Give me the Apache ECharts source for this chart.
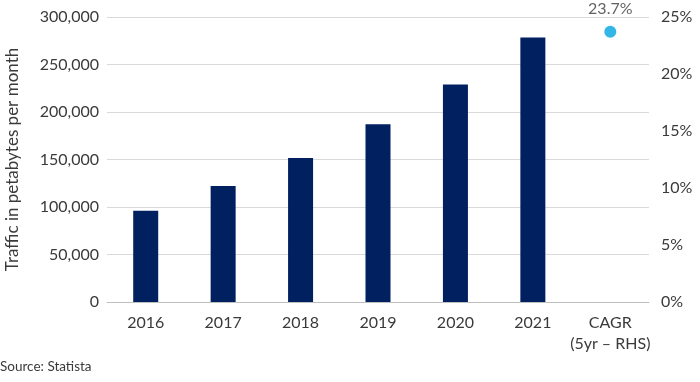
<!DOCTYPE html>
<html>
<head>
<meta charset="utf-8">
<script src="https://cdn.jsdelivr.net/npm/echarts@6/dist/echarts.min.js"></script>
<style>html,body{margin:0;padding:0;background:#fff}#c{width:700px;height:382px}</style>
</head>
<body>
<div id="c"></div>
<script>
const categories = ['2016', '2017', '2018', '2019', '2020', '2021', 'CAGR\n(5yr – RHS)'];
const trafficValues = [96000, 122000, 151500, 187000, 229000, 278500, null];
const cagrValues = [null, null, null, null, null, null, 0.237];
const leftTicks = { min: 0, max: 300000, interval: 50000 };
const rightTicks = { min: 0, max: 0.25, interval: 0.05 };
const yAxisTitle = 'Traffic in petabytes per month';
const sourceText = 'Source: Statista';

const FONT = 'Lato';
const TXT = '#3a3a3a';
const chart = echarts.init(document.getElementById('c'), null, { renderer: 'canvas' });
chart.setOption({
  animation: false,
  textStyle: { fontFamily: FONT },
  grid: { left: 107, right: 51, top: 17, bottom: 80, containLabel: false, outerBoundsMode: 'none' },
  xAxis: {
    type: 'category',
    data: categories,
    axisLine: { lineStyle: { color: '#bfbfbf', width: 1 } },
    axisTick: { show: false },
    axisLabel: { color: TXT, fontSize: 16, fontFamily: FONT, margin: 10, lineHeight: 21, interval: 0 }
  },
  yAxis: [
    {
      type: 'value', min: leftTicks.min, max: leftTicks.max, interval: leftTicks.interval,
      name: yAxisTitle, nameLocation: 'middle', nameGap: 86,
      nameTextStyle: { color: TXT, fontSize: 17, fontFamily: FONT },
      axisLine: { show: false }, axisTick: { show: false },
      splitLine: { lineStyle: { color: '#d9d9d9', width: 1 } },
      axisLabel: { color: TXT, fontSize: 16, fontFamily: FONT, margin: 8,
        formatter: v => v.toLocaleString('en-US') }
    },
    {
      type: 'value', min: rightTicks.min, max: rightTicks.max, interval: rightTicks.interval,
      position: 'right',
      axisLine: { show: false }, axisTick: { show: false },
      splitLine: { show: false },
      axisLabel: { color: TXT, fontSize: 16, fontFamily: FONT, margin: 12,
        formatter: v => Math.round(v * 100) + '%' }
    }
  ],
  series: [
    {
      type: 'bar', data: trafficValues, yAxisIndex: 0, barWidth: 25,
      itemStyle: { color: '#002060' }
    },
    {
      type: 'scatter', data: cagrValues, yAxisIndex: 1, symbolSize: 12,
      itemStyle: { color: '#00a3e0' },
      label: { show: true, position: 'top', distance: 9, color: TXT, fontSize: 16, fontFamily: FONT,
        formatter: p => (p.value * 100).toFixed(1) + '%' }
    }
  ],
  graphic: [
    { type: 'text', left: 0, top: 360, style: { text: sourceText, fill: TXT, fontSize: 13.5, fontFamily: FONT } }
  ]
});
</script>
</body>
</html>
